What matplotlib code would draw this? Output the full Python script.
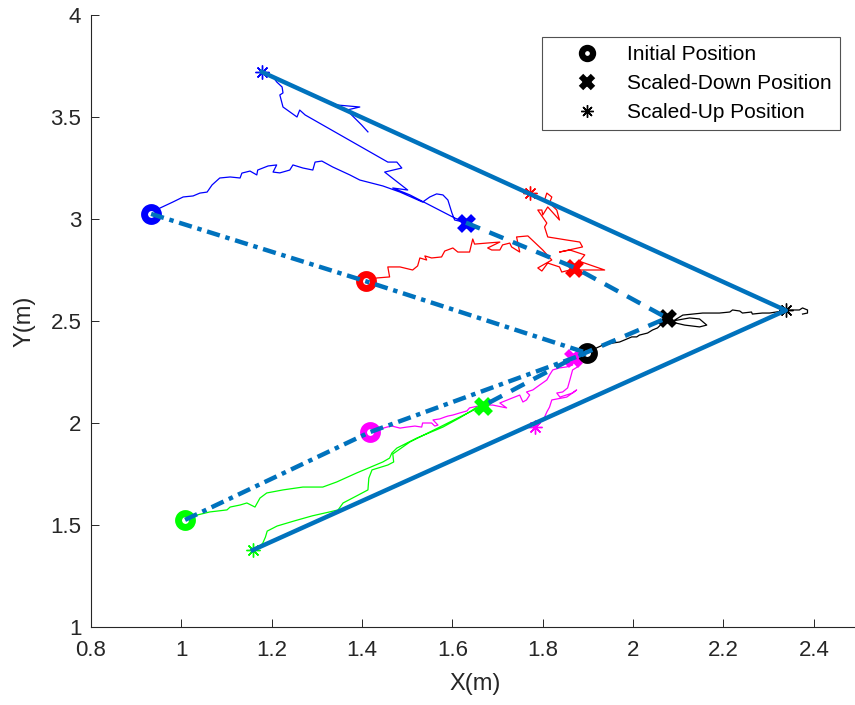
import matplotlib

matplotlib.use("Agg")
import matplotlib.pyplot as plt
from matplotlib.lines import Line2D

plt.rcParams["font.family"] = ["Liberation Sans", "DejaVu Sans"]

FORM_COLOR = "#0072BD"

# robot order: blue, red, black (leader), magenta, green
robot_colors = ["#0000ff", "#ff0000", "#000000", "#ff00ff", "#00ff00"]
initial_x = [0.933, 1.408, 1.898, 1.417, 1.008]
initial_y = [3.025, 2.695, 2.343, 1.955, 1.525]
down_x = [1.630, 1.870, 2.075, 1.867, 1.667]
down_y = [2.982, 2.762, 2.515, 2.318, 2.083]
up_x = [1.178, 1.771, 2.338, 1.782, 1.158]
up_y = [3.721, 3.128, 2.552, 1.980, 1.377]

blue_tx = [0.933, 0.953, 0.981, 1.004, 1.026, 1.041, 1.057, 1.068, 1.085, 1.108, 1.130, 1.134,
           1.152, 1.167, 1.169, 1.192, 1.211, 1.203, 1.218, 1.240, 1.247, 1.269, 1.291, 1.296,
           1.311, 1.335, 1.373, 1.395, 1.446, 1.484, 1.534, 1.550, 1.565, 1.579, 1.590, 1.599,
           1.605, 1.630, 1.605, 1.506, 1.468, 1.501, 1.450, 1.488, 1.477, 1.457, 1.274, 1.262,
           1.256, 1.225, 1.218, 1.225, 1.223, 1.211, 1.203, 1.178, 1.344, 1.395, 1.366, 1.399,
           1.413]
blue_ty = [3.025, 3.054, 3.083, 3.108, 3.113, 3.127, 3.132, 3.167, 3.201, 3.206, 3.201, 3.225,
           3.235, 3.216, 3.240, 3.260, 3.265, 3.230, 3.226, 3.240, 3.265, 3.250, 3.240, 3.279,
           3.284, 3.255, 3.216, 3.191, 3.162, 3.132, 3.083, 3.108, 3.123, 3.118, 3.093, 3.029,
           2.995, 2.982, 3.005, 3.118, 3.152, 3.142, 3.230, 3.250, 3.279, 3.279, 3.510, 3.534,
           3.500, 3.549, 3.608, 3.618, 3.647, 3.672, 3.696, 3.721, 3.559, 3.549, 3.534, 3.461,
           3.427]

red_tx = [1.408, 1.433, 1.461, 1.457, 1.484, 1.512, 1.523, 1.528, 1.543, 1.539, 1.554, 1.576,
          1.583, 1.601, 1.612, 1.638, 1.645, 1.649, 1.676, 1.705, 1.678, 1.687, 1.705, 1.711,
          1.727, 1.731, 1.749, 1.742, 1.767, 1.800, 1.820, 1.789, 1.798, 1.811, 1.837, 1.842,
          1.860, 1.937, 1.886, 1.870, 1.893, 1.860, 1.837, 1.888, 1.882, 1.853, 1.811, 1.804,
          1.809, 1.789, 1.798, 1.800, 1.811, 1.837, 1.831, 1.815, 1.820, 1.809, 1.804, 1.778,
          1.771]
red_ty = [2.695, 2.711, 2.716, 2.765, 2.765, 2.750, 2.770, 2.809, 2.799, 2.819, 2.809, 2.814,
          2.843, 2.858, 2.838, 2.838, 2.902, 2.877, 2.882, 2.887, 2.858, 2.848, 2.848, 2.873,
          2.882, 2.863, 2.838, 2.912, 2.917, 2.848, 2.799, 2.760, 2.745, 2.784, 2.765, 2.740,
          2.750, 2.750, 2.789, 2.762, 2.824, 2.848, 2.838, 2.863, 2.887, 2.897, 2.912, 2.961,
          2.980, 3.044, 3.044, 3.020, 3.059, 2.995, 3.044, 3.078, 3.108, 3.127, 3.093, 3.118,
          3.128]

black_tx = [1.898, 1.919, 1.933, 1.955, 1.970, 1.981, 1.997, 2.008, 2.014, 2.032, 2.043, 2.054,
            2.065, 2.075, 2.087, 2.125, 2.147, 2.163, 2.147, 2.114, 2.085, 2.110, 2.154, 2.191,
            2.214, 2.220, 2.236, 2.242, 2.262, 2.264, 2.286, 2.302, 2.331, 2.338, 2.353, 2.368,
            2.375, 2.386, 2.386, 2.375]
black_ty = [2.343, 2.368, 2.382, 2.392, 2.397, 2.407, 2.422, 2.422, 2.431, 2.441, 2.456, 2.466,
            2.490, 2.515, 2.500, 2.515, 2.510, 2.480, 2.471, 2.480, 2.495, 2.529, 2.539, 2.539,
            2.544, 2.554, 2.549, 2.539, 2.544, 2.534, 2.539, 2.539, 2.549, 2.552, 2.554, 2.554,
            2.564, 2.554, 2.539, 2.534]

magenta_tx = [1.417, 1.455, 1.466, 1.484, 1.499, 1.517, 1.532, 1.534, 1.554, 1.561, 1.568, 1.557,
              1.572, 1.583, 1.590, 1.601, 1.616, 1.632, 1.638, 1.667, 1.689, 1.711, 1.720, 1.705,
              1.733, 1.749, 1.756, 1.764, 1.771, 1.764, 1.778, 1.793, 1.809, 1.815, 1.822, 1.837,
              1.853, 1.866, 1.867, 1.877, 1.866, 1.860, 1.855, 1.844, 1.831, 1.838, 1.866, 1.875,
              1.853, 1.820, 1.815, 1.809, 1.804, 1.798, 1.787, 1.782]
magenta_ty = [1.955, 1.980, 1.985, 1.975, 1.980, 1.985, 1.980, 2.000, 2.000, 1.985, 1.990, 2.015,
              2.020, 2.029, 2.034, 2.039, 2.049, 2.059, 2.074, 2.088, 2.088, 2.078, 2.074, 2.098,
              2.123, 2.137, 2.103, 2.113, 2.137, 2.152, 2.162, 2.186, 2.211, 2.235, 2.260, 2.270,
              2.275, 2.284, 2.318, 2.275, 2.260, 2.211, 2.172, 2.152, 2.147, 2.127, 2.147, 2.162,
              2.127, 2.113, 2.078, 2.054, 2.029, 2.015, 1.990, 1.980]

green_tx = [1.008, 1.035, 1.063, 1.101, 1.108, 1.130, 1.145, 1.163, 1.174, 1.189, 1.225, 1.269,
            1.313, 1.344, 1.388, 1.446, 1.461, 1.466, 1.477, 1.521, 1.579, 1.616, 1.638, 1.654,
            1.667, 1.643, 1.599, 1.550, 1.506, 1.468, 1.470, 1.457, 1.422, 1.415, 1.413, 1.390,
            1.358, 1.347, 1.330, 1.290, 1.250, 1.212, 1.190, 1.186, 1.180, 1.168, 1.158]
green_ty = [1.525, 1.549, 1.564, 1.574, 1.588, 1.598, 1.608, 1.588, 1.632, 1.657, 1.672, 1.686,
            1.686, 1.711, 1.755, 1.809, 1.828, 1.853, 1.877, 1.926, 1.980, 2.025, 2.054, 2.078,
            2.083, 2.059, 2.010, 1.956, 1.907, 1.848, 1.809, 1.794, 1.770, 1.730, 1.672, 1.645,
            1.608, 1.574, 1.565, 1.545, 1.520, 1.495, 1.470, 1.440, 1.410, 1.385, 1.377]

traj_x = [blue_tx, red_tx, black_tx, magenta_tx, green_tx]
traj_y = [blue_ty, red_ty, black_ty, magenta_ty, green_ty]

# formation outlines: initial V (dash-dot), scaled down (dashed), scaled up (solid)
init_order = [0, 1, 2, 3, 4]
down_order = [0, 1, 2, 3, 4]
up_order = [0, 2, 4]

fig = plt.figure(figsize=(8.55, 7.05), dpi=100)
ax = fig.add_axes([91 / 855, 78 / 705, 768 / 855, 612 / 705])

for tx, ty, c in zip(traj_x, traj_y, robot_colors):
    ax.plot(tx, ty, color=c, lw=0.9, zorder=2)

for i, c in enumerate(robot_colors):
    ax.plot(initial_x[i], initial_y[i], "o", ms=10, mew=5, mec=c, mfc="white", zorder=3)
    ax.plot(down_x[i], down_y[i], "x", ms=10, mew=5, mec=c, zorder=3)
    ax.plot(up_x[i], up_y[i], marker=(8, 2, 0), ms=10, mew=1.0, mec=c, ls="none", zorder=3)

ax.plot([initial_x[i] for i in init_order], [initial_y[i] for i in init_order],
        color=FORM_COLOR, lw=3.2, dashes=(3.0, 1.3, 1.0, 1.3), zorder=4)
ax.plot([down_x[i] for i in down_order], [down_y[i] for i in down_order],
        color=FORM_COLOR, lw=3.2, dashes=(3.4, 2.3), zorder=4)
ax.plot([up_x[i] for i in up_order], [up_y[i] for i in up_order],
        color=FORM_COLOR, lw=3.2, ls="-", zorder=4)

ax.set_xlim(0.8, 2.5)
ax.set_ylim(1, 4)
ax.set_xticks([0.8, 1, 1.2, 1.4, 1.6, 1.8, 2, 2.2, 2.4])
ax.set_xticklabels(["0.8", "1", "1.2", "1.4", "1.6", "1.8", "2", "2.2", "2.4"])
ax.set_yticks([1, 1.5, 2, 2.5, 3, 3.5, 4])
ax.set_yticklabels(["1", "1.5", "2", "2.5", "3", "3.5", "4"])
ax.tick_params(direction="in", length=6, width=0.7, labelsize=16, colors="#262626")
ax.tick_params(axis="x", pad=9)
ax.tick_params(axis="y", pad=7)
for s in ("top", "right"):
    ax.spines[s].set_visible(False)
for s in ("left", "bottom"):
    ax.spines[s].set_color("#262626")
    ax.spines[s].set_linewidth(0.8)
ax.set_xlabel("X(m)", fontsize=17, color="#262626", labelpad=9)
ax.set_ylabel("Y(m)", fontsize=17, color="#262626", labelpad=11)

handles = [
    Line2D([], [], ls="none", marker="o", ms=8, mew=4.5, mec="k", mfc="white"),
    Line2D([], [], ls="none", marker="x", ms=9, mew=4.5, mec="k"),
    Line2D([], [], ls="none", marker=(8, 2, 0), ms=9, mew=1.0, mec="k"),
]
leg = ax.legend(handles, ["Initial Position", "Scaled-Down Position", "Scaled-Up Position"],
                loc="upper right", bbox_to_anchor=((840 - 91) / 768, 1 - 22 / 612),
                fontsize=15, frameon=True, fancybox=False, edgecolor="#262626",
                borderpad=0.4, labelspacing=0.47, handlelength=3.6, handletextpad=0.1,
                borderaxespad=0)
leg.get_frame().set_linewidth(0.8)

fig.savefig("out.png", dpi=100)
